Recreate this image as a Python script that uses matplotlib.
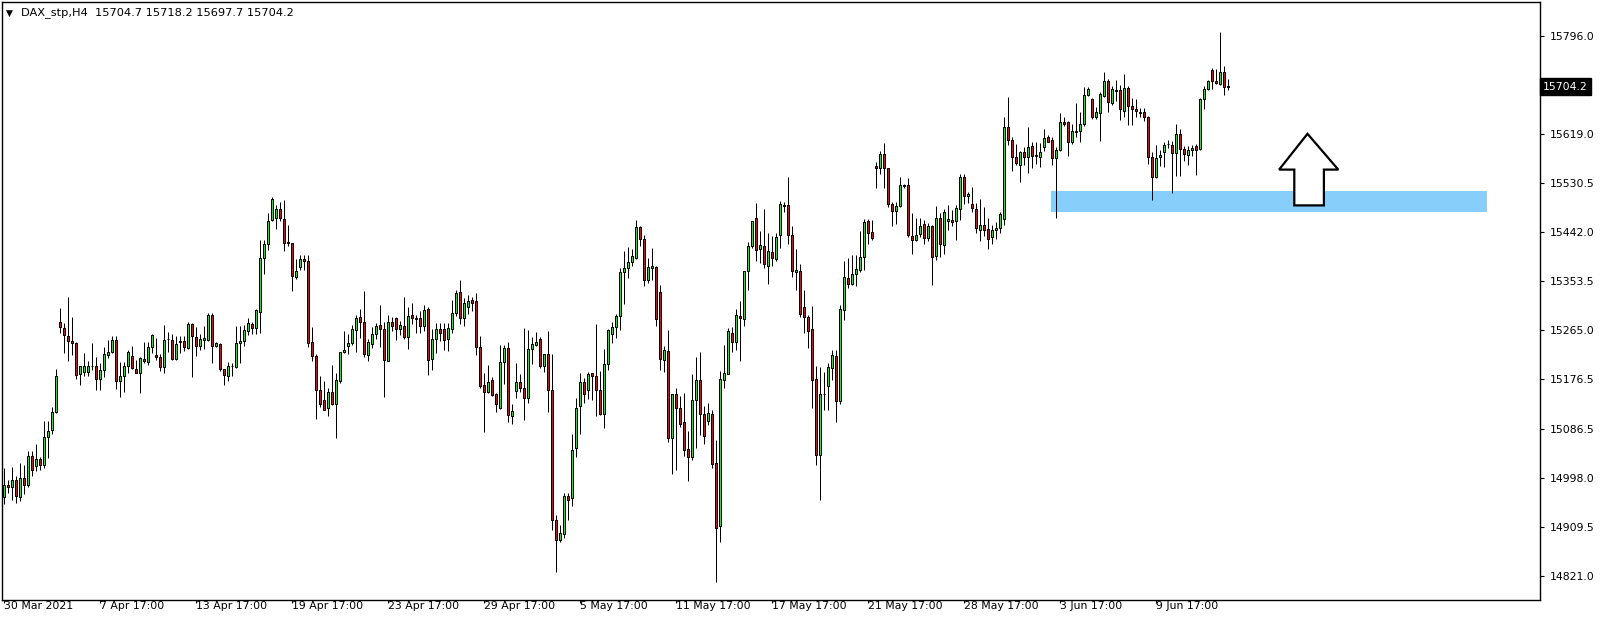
import matplotlib
matplotlib.use("Agg")
import matplotlib.pyplot as plt
from matplotlib.patches import Rectangle, Polygon
import matplotlib.transforms as mtransforms
import numpy as np

# ---------------- data (DAX_stp, H4) ----------------
opens = [14963.9, 14985.6, 14982.0, 14994.0, 14962.7, 14997.6, 14984.4, 15037.3, 15019.3, 15031.9,
         15021.7, 15071.0, 15085.4, 15117.9, 15279.2, 15268.4, 15253.9, 15245.5, 15241.9, 15185.3,
         15190.1, 15190.1, 15199.8, 15199.8, 15175.7, 15192.5, 15220.2, 15226.2, 15246.7, 15173.3,
         15181.7, 15200.3, 15217.2, 15194.3, 15188.3, 15212.4, 15207.6, 15235.2, 15219.6, 15216.6,
         15197.9, 15248.5, 15247.3, 15212.4, 15244.9, 15244.9, 15232.8, 15276.2, 15252.1, 15236.4,
         15247.3, 15247.3, 15291.8, 15236.4, 15240.1, 15194.3, 15182.3, 15200.3, 15199.1, 15241.3,
         15244.9, 15264.1, 15275.6, 15268.4, 15297.2, 15394.7, 15420.0, 15463.3, 15466.9, 15482.6,
         15464.5, 15423.6, 15421.2, 15359.8, 15377.9, 15393.5, 15389.9, 15243.1, 15217.8, 15157.6,
         15138.4, 15124.0, 15154.0, 15131.2, 15172.1, 15225.0, 15235.9, 15240.7, 15265.9, 15287.6,
         15279.2, 15220.2, 15239.5, 15257.5, 15273.2, 15266.0, 15209.4, 15279.2, 15286.4, 15266.0,
         15272.0, 15251.5, 15292.4, 15286.4, 15286.4, 15272.0, 15302.1, 15211.8, 15247.9, 15266.0,
         15266.0, 15247.9, 15266.0, 15294.8, 15333.3, 15286.4, 15305.7, 15318.9, 15317.7, 15234.7,
         15164.9, 15152.8, 15174.4, 15149.2, 15123.9, 15206.9, 15233.4, 15109.5, 15155.2, 15170.8,
         15160.0, 15141.9, 15231.0, 15238.2, 15249.1, 15199.7, 15221.4, 15156.4, 14921.7, 14886.8,
         14896.4, 14966.2, 14961.4, 15051.7, 15127.5, 15172.0, 15156.4, 15186.5, 15181.7, 15156.4,
         15113.1, 15203.3, 15257.5, 15270.7, 15290.0, 15369.4, 15376.6, 15388.6, 15394.7, 15451.2,
         15428.4, 15356.1, 15377.8, 15379.0, 15333.3, 15211.7, 15227.4, 15070.9, 15149.2, 15125.1,
         15099.8, 15050.5, 15036.0, 15138.3, 15174.4, 15113.1, 15101.0, 15113.1, 15025.2, 14910.9,
         15174.4, 15185.3, 15258.7, 15243.0, 15290.0, 15285.1, 15370.6, 15416.3, 15466.9, 15410.3,
         15416.3, 15381.4, 15405.5, 15392.3, 15435.6, 15490.3, 15490.9, 15436.8, 15369.4, 15371.8,
         15306.8, 15287.6, 15267.1, 15176.8, 15039.6, 15150.4, 15164.8, 15197.3, 15217.8, 15137.1,
         15302.0, 15358.6, 15348.9, 15365.8, 15374.2, 15395.9, 15462.0, 15441.6, 15560.7, 15557.1,
         15582.4, 15557.1, 15492.1, 15478.9, 15489.7, 15527.0, 15527.0, 15434.4, 15428.3, 15438.0,
         15457.2, 15430.7, 15453.6, 15398.3, 15466.9, 15418.7, 15462.0, 15463.2, 15462.0, 15482.5,
         15541.5, 15506.6, 15492.1, 15483.7, 15445.0, 15455.0, 15448.0, 15432.0, 15445.0, 15450.0,
         15465.0, 15631.7, 15608.8, 15576.4, 15563.1, 15586.0, 15576.4, 15596.8, 15581.2, 15576.4,
         15594.4, 15613.7, 15607.6, 15575.2, 15589.6, 15641.3, 15641.3, 15605.2, 15624.5, 15623.3,
         15636.5, 15689.5, 15682.3, 15648.6, 15656.4, 15687.6, 15714.7, 15675.6, 15698.5, 15698.5,
         15660.0, 15702.1, 15669.6, 15663.6, 15658.8, 15658.8, 15650.3, 15576.9, 15540.8, 15576.9,
         15585.4, 15601.0, 15599.8, 15584.2, 15619.1, 15591.4, 15581.7, 15589.0, 15596.2, 15591.4,
         15682.8, 15699.7, 15733.4, 15715.3, 15709.3, 15729.8, 15704.7]
highs = [15016.8, 14994.0, 15018.1, 15001.8, 15025.3, 15021.7, 15046.9, 15046.9, 15059.0, 15036.1,
         15101.1, 15101.1, 15125.2, 15195.0, 15304.5, 15276.8, 15324.9, 15288.8, 15242.5, 15200.5,
         15223.8, 15209.4, 15241.9, 15215.4, 15205.8, 15233.5, 15246.7, 15253.9, 15253.9, 15207.0,
         15207.0, 15229.2, 15236.4, 15211.2, 15216.0, 15242.5, 15242.5, 15258.1, 15250.9, 15220.8,
         15273.7, 15261.7, 15258.1, 15254.5, 15253.3, 15254.5, 15279.8, 15277.4, 15270.1, 15258.1,
         15272.5, 15295.4, 15295.4, 15243.0, 15241.3, 15195.5, 15207.6, 15205.2, 15272.5, 15272.5,
         15274.9, 15285.8, 15279.2, 15303.2, 15427.2, 15427.2, 15475.3, 15505.4, 15491.0, 15495.8,
         15499.4, 15454.9, 15422.4, 15392.3, 15400.7, 15399.5, 15399.5, 15270.8, 15221.4, 15181.7,
         15172.1, 15161.2, 15202.2, 15186.5, 15226.2, 15263.5, 15257.5, 15273.2, 15291.2, 15303.2,
         15335.7, 15247.9, 15269.6, 15278.0, 15309.3, 15279.2, 15291.2, 15288.8, 15288.8, 15281.6,
         15324.9, 15305.7, 15312.9, 15292.4, 15299.6, 15309.3, 15305.7, 15266.0, 15276.8, 15278.0,
         15278.0, 15278.0, 15318.9, 15336.9, 15355.0, 15322.5, 15328.5, 15323.7, 15332.1, 15253.9,
         15187.7, 15202.2, 15180.4, 15151.6, 15238.2, 15238.2, 15243.0, 15131.1, 15205.7, 15185.2,
         15268.3, 15265.9, 15251.5, 15261.1, 15252.7, 15222.0, 15263.5, 15221.4, 14931.3, 14913.3,
         14971.0, 14971.0, 15078.2, 15143.1, 15187.7, 15179.2, 15190.1, 15187.7, 15275.5, 15191.3,
         15231.0, 15266.0, 15279.1, 15293.6, 15376.6, 15407.9, 15415.1, 15411.5, 15463.3, 15453.6,
         15436.8, 15394.7, 15413.9, 15380.2, 15346.5, 15235.8, 15265.9, 15150.0, 15160.0, 15145.6,
         15151.6, 15083.0, 15185.3, 15216.6, 15225.0, 15127.5, 15133.5, 15121.5, 15066.1, 15191.3,
         15238.2, 15269.5, 15270.7, 15303.2, 15317.6, 15371.8, 15424.7, 15462.5, 15494.5, 15442.8,
         15482.5, 15439.2, 15434.4, 15440.4, 15498.1, 15495.7, 15540.3, 15452.4, 15411.5, 15383.8,
         15338.1, 15291.2, 15308.0, 15199.7, 15198.5, 15188.9, 15205.7, 15228.6, 15229.8, 15310.4,
         15389.8, 15394.7, 15400.7, 15400.7, 15442.8, 15465.7, 15465.7, 15463.3, 15567.9, 15587.2,
         15602.8, 15558.0, 15496.9, 15496.9, 15540.3, 15529.4, 15539.1, 15475.3, 15466.9, 15466.9,
         15464.4, 15458.4, 15454.5, 15488.5, 15476.5, 15482.5, 15490.9, 15481.3, 15490.9, 15546.3,
         15546.3, 15513.8, 15523.4, 15494.5, 15501.8, 15487.0, 15468.0, 15455.0, 15460.0, 15478.0,
         15649.8, 15684.7, 15613.7, 15600.4, 15588.4, 15594.4, 15630.5, 15604.0, 15604.0, 15602.8,
         15628.1, 15616.1, 15612.5, 15594.4, 15657.0, 15648.6, 15642.5, 15636.5, 15675.0, 15658.2,
         15703.9, 15703.9, 15683.0, 15666.6, 15693.7, 15731.0, 15717.7, 15705.7, 15716.5, 15706.9,
         15727.4, 15705.7, 15684.0, 15681.6, 15664.8, 15664.8, 15651.5, 15586.6, 15598.6, 15590.2,
         15604.6, 15608.2, 15607.0, 15637.1, 15627.5, 15597.4, 15597.4, 15599.8, 15601.0, 15683.5,
         15704.5, 15716.5, 15737.0, 15735.8, 15803.2, 15741.8, 15718.2]
lows = [14950.7, 14971.1, 14957.9, 14951.9, 14955.5, 14968.7, 14982.0, 15002.4, 15010.8, 15012.0,
        15016.8, 15033.7, 15078.2, 15115.5, 15260.0, 15224.4, 15209.4, 15220.2, 15176.9, 15164.9,
        15181.7, 15181.7, 15192.5, 15156.4, 15156.4, 15179.3, 15214.2, 15222.6, 15158.8, 15143.2,
        15152.8, 15187.1, 15194.3, 15187.1, 15152.2, 15205.2, 15202.7, 15224.4, 15210.0, 15190.7,
        15187.1, 15225.6, 15211.2, 15211.2, 15224.4, 15226.8, 15230.4, 15179.9, 15218.4, 15229.2,
        15230.4, 15244.9, 15205.2, 15235.0, 15191.9, 15165.4, 15172.7, 15182.3, 15196.7, 15205.2,
        15236.4, 15255.7, 15257.5, 15257.5, 15258.7, 15365.8, 15409.2, 15460.9, 15446.5, 15460.9,
        15408.0, 15416.4, 15334.5, 15357.4, 15373.1, 15373.1, 15233.5, 15208.2, 15103.5, 15126.4,
        15120.3, 15109.5, 15128.8, 15069.8, 15169.7, 15223.8, 15221.4, 15238.3, 15226.2, 15250.3,
        15215.4, 15209.4, 15232.3, 15247.9, 15234.7, 15143.2, 15208.2, 15263.5, 15246.7, 15256.3,
        15247.9, 15231.1, 15275.6, 15259.9, 15258.7, 15263.5, 15182.9, 15193.7, 15222.6, 15245.5,
        15228.6, 15227.4, 15258.7, 15290.0, 15275.6, 15272.0, 15293.6, 15299.6, 15219.0, 15161.2,
        15080.6, 15152.0, 15145.6, 15116.7, 15123.0, 15167.2, 15099.8, 15095.0, 15141.9, 15154.0,
        15103.4, 15133.5, 15204.5, 15237.0, 15196.1, 15190.1, 15116.7, 14904.9, 14827.9, 14882.0,
        14889.2, 14921.7, 14948.2, 15036.0, 15078.2, 15133.5, 15140.7, 15139.5, 15109.5, 15110.7,
        15089.0, 15192.5, 15241.8, 15250.3, 15264.7, 15311.6, 15358.6, 15381.4, 15394.0, 15416.3,
        15345.3, 15350.1, 15356.1, 15273.1, 15192.5, 15188.9, 15062.5, 15004.8, 15013.2, 15090.2,
        15037.2, 14992.7, 15030.0, 15052.9, 15074.6, 15058.9, 15093.8, 15015.6, 14811.0, 14883.2,
        15161.2, 15185.0, 15226.2, 15229.8, 15209.3, 15273.1, 15338.1, 15412.7, 15389.8, 15386.2,
        15377.8, 15348.9, 15380.2, 15389.8, 15413.9, 15477.7, 15421.1, 15359.8, 15338.1, 15287.6,
        15258.7, 15232.2, 15125.1, 15021.6, 14959.0, 15121.5, 15121.5, 15174.4, 15098.6, 15131.1,
        15282.7, 15341.7, 15346.5, 15345.3, 15369.4, 15373.0, 15419.9, 15427.1, 15521.0, 15546.3,
        15522.2, 15487.3, 15453.6, 15457.2, 15487.3, 15522.2, 15433.2, 15401.9, 15425.9, 15433.2,
        15419.9, 15425.9, 15346.5, 15391.0, 15395.9, 15401.9, 15445.2, 15453.6, 15428.3, 15464.4,
        15492.1, 15494.5, 15477.7, 15440.0, 15425.0, 15435.0, 15411.0, 15420.0, 15430.0, 15440.0,
        15455.0, 15599.2, 15552.3, 15563.1, 15533.0, 15563.1, 15547.5, 15557.1, 15565.5, 15559.5,
        15587.2, 15604.0, 15563.1, 15468.0, 15587.2, 15632.9, 15578.8, 15601.6, 15613.7, 15604.0,
        15634.1, 15687.1, 15645.0, 15645.0, 15607.0, 15685.2, 15658.8, 15672.0, 15679.2, 15644.3,
        15650.3, 15634.7, 15634.7, 15650.3, 15649.1, 15641.9, 15564.9, 15499.9, 15539.6, 15561.3,
        15560.1, 15592.6, 15511.9, 15543.2, 15543.2, 15570.9, 15562.5, 15579.3, 15544.4, 15590.5,
        15663.6, 15697.3, 15699.7, 15709.3, 15706.9, 15688.8, 15697.7]
closes = [14985.6, 14982.0, 14994.0, 14965.1, 14997.6, 14985.6, 15037.3, 15012.0, 15032.5, 15021.7,
          15072.2, 15083.0, 15116.7, 15181.7, 15269.6, 15255.1, 15244.3, 15240.7, 15184.1, 15199.8,
          15199.8, 15199.8, 15199.2, 15175.7, 15192.5, 15221.4, 15226.2, 15246.7, 15173.3, 15181.7,
          15199.8, 15225.6, 15196.7, 15188.3, 15214.8, 15208.8, 15234.0, 15255.7, 15216.0, 15199.1,
          15247.3, 15248.0, 15212.4, 15240.1, 15242.5, 15234.0, 15276.2, 15253.3, 15236.4, 15248.5,
          15249.7, 15291.8, 15236.4, 15241.3, 15194.3, 15183.5, 15200.3, 15199.5, 15241.3, 15244.9,
          15265.3, 15277.4, 15268.4, 15300.8, 15394.7, 15420.0, 15460.9, 15501.2, 15482.6, 15466.9,
          15422.4, 15421.2, 15362.2, 15371.8, 15392.3, 15389.9, 15241.9, 15217.8, 15157.6, 15131.2,
          15121.5, 15154.0, 15131.2, 15174.5, 15225.0, 15228.6, 15240.7, 15267.1, 15286.4, 15279.2,
          15221.4, 15243.1, 15257.5, 15272.0, 15266.0, 15210.6, 15279.2, 15272.0, 15266.0, 15273.2,
          15252.7, 15290.0, 15286.4, 15284.0, 15272.0, 15300.8, 15210.6, 15247.9, 15266.0, 15258.7,
          15246.7, 15268.4, 15296.0, 15332.1, 15286.4, 15312.9, 15317.7, 15312.9, 15233.5, 15163.6,
          15152.8, 15170.9, 15148.0, 15131.1, 15208.1, 15233.4, 15110.7, 15119.1, 15172.0, 15160.0,
          15141.9, 15231.0, 15239.4, 15244.2, 15200.9, 15221.4, 15156.4, 14922.9, 14886.8, 14898.8,
          14965.0, 14957.8, 15049.3, 15125.1, 15172.0, 15149.2, 15185.3, 15181.7, 15156.4, 15113.1,
          15203.3, 15264.7, 15270.7, 15290.0, 15369.4, 15376.6, 15388.6, 15398.3, 15451.2, 15428.4,
          15356.1, 15379.0, 15380.2, 15284.0, 15213.0, 15228.6, 15070.9, 15149.2, 15123.9, 15096.2,
          15049.3, 15036.0, 15139.5, 15174.4, 15113.1, 15073.4, 15115.5, 15024.0, 14908.5, 15176.8,
          15187.7, 15263.5, 15243.0, 15292.4, 15286.3, 15370.6, 15416.3, 15462.0, 15409.1, 15418.7,
          15383.8, 15407.9, 15394.7, 15433.2, 15492.1, 15489.1, 15435.6, 15371.8, 15374.2, 15293.6,
          15287.6, 15263.5, 15175.6, 15039.6, 15149.2, 15149.2, 15198.5, 15220.2, 15137.1, 15303.2,
          15361.0, 15347.7, 15365.8, 15375.4, 15395.9, 15460.8, 15440.4, 15430.8, 15557.1, 15582.4,
          15557.1, 15492.1, 15478.9, 15489.7, 15527.0, 15524.6, 15435.6, 15427.1, 15435.6, 15452.4,
          15430.7, 15453.6, 15395.9, 15466.9, 15419.9, 15477.7, 15465.0, 15459.6, 15484.9, 15541.5,
          15506.6, 15510.2, 15484.9, 15450.0, 15455.0, 15445.0, 15430.0, 15445.0, 15450.0, 15474.0,
          15630.5, 15608.8, 15576.4, 15566.7, 15586.0, 15576.4, 15594.4, 15578.8, 15578.8, 15586.0,
          15611.3, 15605.2, 15575.2, 15589.6, 15640.1, 15636.5, 15605.2, 15624.5, 15622.1, 15636.5,
          15689.5, 15700.3, 15648.6, 15658.2, 15690.1, 15714.7, 15676.8, 15699.7, 15696.1, 15663.6,
          15702.1, 15669.6, 15663.6, 15660.0, 15656.4, 15649.1, 15576.9, 15540.8, 15575.7, 15581.7,
          15599.8, 15600.4, 15584.2, 15619.1, 15591.4, 15582.9, 15590.2, 15593.8, 15590.2, 15682.8,
          15699.7, 15714.1, 15715.3, 15710.5, 15729.8, 15703.3, 15704.2]

date_labels = ["30 Mar 2021", "7 Apr 17:00", "13 Apr 17:00", "19 Apr 17:00", "23 Apr 17:00",
               "29 Apr 17:00", "5 May 17:00", "11 May 17:00", "17 May 17:00", "21 May 17:00",
               "28 May 17:00", "3 Jun 17:00", "9 Jun 17:00"]
bars_per_label = 24
price_ticks = [15796.0, 15619.0, 15530.5, 15442.0, 15353.5, 15265.0, 15176.5,
               15086.5, 14998.0, 14909.5, 14821.0]
symbol = "DAX_stp,H4"
last_bar = (15704.7, 15718.2, 15697.7, 15704.2)
zone_low, zone_high = 15478.0, 15516.0
zone_start, zone_end = 261.9, 370.8

# ---------------- figure ----------------
W, H = 1604, 618
fig = plt.figure(figsize=(W / 100, H / 100), dpi=100)
fig.patch.set_facecolor("white")
ax = fig.add_axes([2 / W, 1 - 600 / H, 1538 / W, 598 / H])
ax.set_facecolor("white")

n = len(opens)
x = np.arange(n)
o = np.array(opens); h = np.array(highs); l = np.array(lows); c = np.array(closes)
up = c >= o
body_bot = np.minimum(o, c)
body_h = np.maximum(np.abs(c - o), 0.3)
colors = np.where(up, "#00ff00", "#ff0000")

px = 72 / 100  # one pixel in points
ax.vlines(x, l, h, color="black", linewidth=px, zorder=2)
ax.bar(x, body_h, bottom=body_bot, width=0.5, color=colors, edgecolor="black",
       linewidth=px, zorder=3)

# support zone
ax.add_patch(Rectangle((zone_start, zone_low), zone_end - zone_start, zone_high - zone_low,
                       facecolor="#87cefa", edgecolor="none", zorder=1))

# hollow up-arrow
arrow = [(322.7, 15489.9), (330.1, 15489.9), (330.1, 15554.5), (333.7, 15554.5),
         (326.0, 15619.1), (318.9, 15554.5), (322.7, 15554.5)]
ax.add_patch(Polygon(arrow, closed=True, facecolor="white", edgecolor="black",
                     linewidth=1.6, zorder=4))

# bar i centred on pixel column 3 (+4 px per bar)
ax.set_xlim(-0.375, 384.125)
ax.set_ylim(14777.7, 15857.0)

for s in ax.spines.values():
    s.set_linewidth(1.0)
    s.set_color("black")

fs = 7.8
ax.yaxis.tick_right()
ax.set_yticks(price_ticks)
ax.set_yticklabels([f"{v:.1f}" for v in price_ticks], fontsize=fs, family="DejaVu Sans")
ax.tick_params(axis="y", direction="out", length=3, width=0.8, pad=4, colors="black")

ax.set_xticks(np.arange(len(date_labels)) * bars_per_label)
ax.set_xticklabels(date_labels, fontsize=fs, family="DejaVu Sans", ha="left")
ax.tick_params(axis="x", direction="out", length=2.2, width=0.8, pad=-1.2, colors="black")

# current price marker
trans = mtransforms.blended_transform_factory(ax.transAxes, ax.transData)
ax.text(1.002, last_bar[3], f"{last_bar[3]:.1f}", transform=trans, ha="left", va="center",
        fontsize=fs, color="white", family="DejaVu Sans",
        bbox=dict(boxstyle="square,pad=0.3", facecolor="black", edgecolor="black"))

# header
ax.text(4 / 1538, 1 - 11 / 598, "\u25bc", transform=ax.transAxes, fontsize=6.5,
        ha="left", va="center", color="black", family="DejaVu Sans")
hdr = f"{symbol}  " + " ".join(f"{v:.1f}" for v in last_bar)
ax.text(19 / 1538, 1 - 11 / 598, hdr, transform=ax.transAxes, fontsize=8.2,
        ha="left", va="center", color="black", family="DejaVu Sans")

fig.savefig("out.png", dpi=100, facecolor="white")
